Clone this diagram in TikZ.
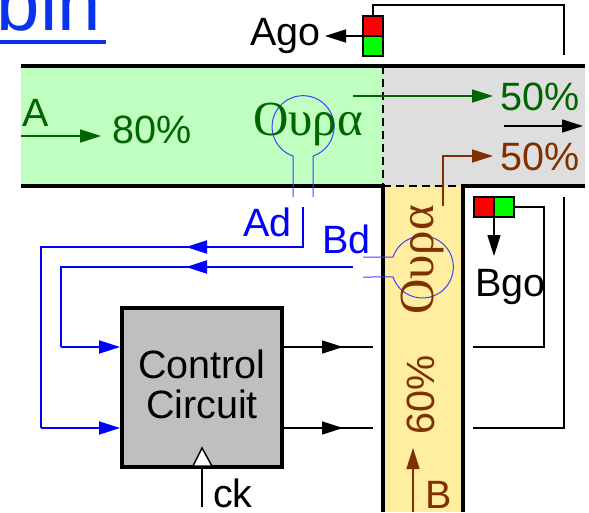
\documentclass[tikz,border=0pt]{standalone}
\usepackage[no-math]{fontspec}
\setmainfont{Liberation Sans}
\newfontfamily\greekfont{Liberation Serif}
\usetikzlibrary{arrows.meta}
\definecolor{passA}{HTML}{BFFFBF}
\definecolor{passB}{HTML}{FFEE9F}
\definecolor{shared}{HTML}{DEDEDE}
\definecolor{darkA}{HTML}{006400}
\definecolor{darkB}{HTML}{803000}
\definecolor{sensor}{HTML}{4040FF}
\definecolor{linkblue}{HTML}{0A33EE}
\tikzset{
    bigtext/.style={inner sep=0pt,font=\fontsize{39.5}{40}\selectfont},
    wordtext/.style={inner sep=0pt,font=\greekfont\fontsize{49}{49}\selectfont},
    wall/.style={line width=4pt},
    wire/.style={line width=1.5pt},
    bluewire/.style={line width=2pt,blue},
    bulb/.style={line width=1pt,sensor},
    tip/.style={-{Triangle[length=21pt,width=13pt]}},
    lamp/.style={draw,line width=2pt,minimum width=20pt,minimum height=20pt,inner sep=0pt},
}
\begin{document}
\begin{tikzpicture}[x=1pt,y=-1pt]
\useasboundingbox (0,0) rectangle (589,512);

%Fondos
\fill[passA] (21,66) rectangle (383,186);
\fill[shared] (383,66) rectangle (585,186);
\fill[passB] (383,186) rectangle (463,512);

%Titulo
\node[anchor=base east,inner sep=0pt,text=linkblue,font=\fontsize{78}{78}\selectfont] (title) at (101,30) {bin};
\draw[line width=4.5pt,linkblue] (0,42) -- (106,42);

%Paredes
\draw[wall] (21,66) -- (585,66);
\draw[wall] (21,186) -- (385,186);
\draw[wall] (585,186) -- (461,186);
\draw[wall] (383,186) -- (383,512);
\draw[wall] (463,186) -- (463,512);
\draw[line width=2pt,dash pattern=on 8pt off 5pt] (383,66) -- (383,186);
\draw[line width=2pt,dash pattern=on 8pt off 5pt] (383,186) -- (463,186);

%Circuito de control
\node[draw,wall,fill=black!25,minimum width=160pt,minimum height=159pt,inner sep=0pt] (ctrl) at (202,387.5) {};
\node[bigtext,anchor=base] (ctrla) at (202,378) {Control};
\node[bigtext,anchor=base] (ctrlb) at (202,418) {Circuit};
\coordinate (ckin) at (202,507);
\coordinate (ckb) at (202,466);
\draw[wire] (ckin) -- (ckb);
\draw[wire,fill=white] (193,466) -- (202,448) -- (212,466) -- cycle;
\node[bigtext,anchor=base west] (cklabel) at (213,507) {ck};

%Semaforos
\node[lamp,fill=red] (agored) at (373,26) {};
\node[lamp,fill=green] (agogreen) at (373,46) {};
\node[lamp,fill=red] (bgored) at (483.5,207) {};
\node[lamp,fill=green] (bgogreen) at (503.5,207) {};
\node[bigtext,anchor=base east] (ago) at (321,45) {Ago};
\node[bigtext,anchor=base west] (bgo) at (475,296) {Bgo};
\coordinate (agoleft) at (363,36);
\coordinate (bgotop) at (494,217);
\draw[wire,tip] (agoleft) -- (325,36);
\draw[wire,tip] (bgotop) -- (494,256);

%Salidas del circuito
\foreach \y in {347,428}{
    \draw[wire,tip] (283,\y) -- (343,\y);
    \draw[wire] (340,\y) -- (373,\y);
}
\coordinate (reta) at (473,347);
\coordinate (retb) at (473,428);
\draw[wire] (reta) -- (544,347) -- (544,207) -- (bgogreen.east);
\draw[wire] (retb) -- (564,428) -- (564,197);
\draw[wire] (564,55) -- (564,5) -- (373,5) -- (agored.north);

%Sensores
\draw[bulb] (293,197) -- (293,156) arc[start angle=109,end angle=431,radius=31] -- (313,197);
\draw[bulb] (363,257) -- (393,257) arc[start angle=198.8,end angle=521.2,radius=31] -- (363,277);
\node[bigtext,anchor=base east,text=blue] (ad) at (292,236) {Ad};
\node[bigtext,anchor=base west,text=blue] (bd) at (322,253) {Bd};

%Lineas azules
\coordinate (adin) at (303,207);
\coordinate (bdin) at (353,267);
\draw[bluewire] (adin) -- (303,247) -- (41,247) -- (41,428);
\draw[bluewire] (bdin) -- (61,267) -- (61,347);
\draw[bluewire,tip] (230,247) -- (186,247);
\draw[bluewire,tip] (230,267) -- (186,267);
\draw[bluewire,tip] (61,347) -- (ctrl.west |- 0,347);
\draw[bluewire,tip] (41,428) -- (ctrl.west |- 0,428);

%Flujos
\draw[wire,darkA,tip] (21,136) -- (101,136);
\draw[wire,darkA,tip] (353,96) -- (493,96);
\draw[wire,black,tip] (504,126) -- (583,126);
\draw[wire,darkB,tip] (443,206) -- (443,156) -- (493,156);
\draw[wire,darkB,tip] (413,512) -- (413,448);
\node[bigtext,anchor=base west,text=darkA] (alabel) at (22,126) {A};
\node[bigtext,anchor=base west,text=darkA] (aflow) at (112,143) {80\%};
\node[bigtext,anchor=base west,text=darkA] (asplit) at (500,110) {50\%};
\node[bigtext,anchor=base west,text=darkB] (bsplit) at (500,170) {50\%};
\node[bigtext,anchor=base west,text=darkB] (blabel) at (425,508) {B};
\node[bigtext,anchor=base west,rotate=90,text=darkB] (bflow) at (434,435) {60\%};
\node[wordtext,anchor=base west,text=darkA] (awork) at (253,135) {Ουρα};
\node[wordtext,anchor=base west,rotate=90,text=darkB] (bwork) at (433,315) {Ουρα};
\end{tikzpicture}
\end{document}
